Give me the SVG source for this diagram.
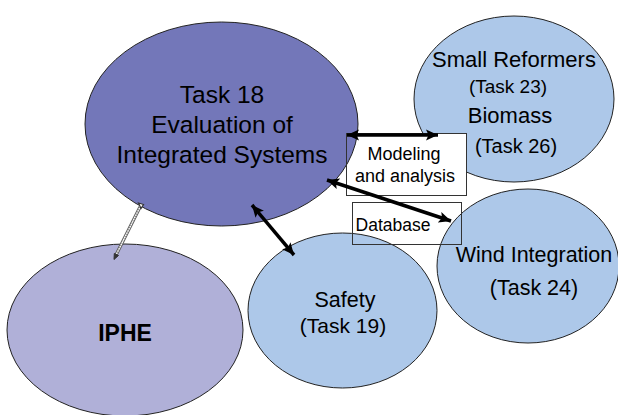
<svg xmlns="http://www.w3.org/2000/svg" width="618" height="415" viewBox="0 0 618 415">
<style>
text{font-family:"Liberation Sans",Arial,sans-serif;fill:#000;text-anchor:middle}
.el{stroke:#222;stroke-width:1}
.blue{fill:#ADC8E9}
.arrow{stroke:#000;stroke-width:3.5;fill:none}
.box{fill:none;stroke:#333;stroke-width:1}
</style>
<defs>
<marker id="ah" viewBox="0 0 12 12" refX="12" refY="6" markerWidth="12" markerHeight="12" markerUnits="userSpaceOnUse" orient="auto-start-reverse">
<path d="M0,0.5 L12,6 L0,11.5 L2.5,6 Z" fill="#000"/>
</marker>
</defs>
<g id="node-small-reformers">
<ellipse class="el blue" cx="514" cy="99" rx="100" ry="83"/>
<text x="514" y="66.7" font-size="22">Small Reformers</text>
<text x="508" y="93" font-size="19">(Task 23)</text>
<text x="510" y="123" font-size="22">Biomass</text>
<text x="516" y="153" font-size="20">(Task 26)</text>
</g>
<g id="node-wind">
<ellipse class="el blue" cx="528" cy="266" rx="91" ry="77"/>
<text x="534" y="262" font-size="21.5">Wind Integration</text>
<text x="534" y="295" font-size="21.5">(Task 24)</text>
</g>
<g id="node-iphe">
<ellipse class="el" fill="#B0B0D8" cx="125" cy="330" rx="118" ry="86"/>
<text x="125" y="341" font-size="23" font-weight="bold">IPHE</text>
</g>
<g id="label-modeling-bg">
<rect x="346.5" y="133.5" width="120" height="62" fill="#fff" stroke="#333"/>
</g>
<g id="node-task18">
<ellipse class="el" fill="#7377B9" cx="221.5" cy="124" rx="136.5" ry="102"/>
<text x="222" y="103" font-size="24.5">Task 18</text>
<text x="222" y="133" font-size="24.5">Evaluation of</text>
<text x="222" y="163" font-size="24.5">Integrated Systems</text>
</g>
<g id="node-safety">
<ellipse class="el blue" cx="342.5" cy="310.5" rx="94.5" ry="77.5"/>
<text x="345" y="307" font-size="21.5">Safety</text>
<text x="343" y="333" font-size="21">(Task 19)</text>
</g>
<g id="connectors">
<g id="label-modeling">
<rect class="box" x="346.5" y="133.5" width="120" height="62"/>
<text x="404" y="160" font-size="18">Modeling</text>
<text x="405" y="182" font-size="18">and analysis</text>
</g>
<g id="label-database">
<rect class="box" x="352.5" y="202.5" width="109" height="42"/>
<text x="393" y="231" font-size="17.5">Database</text>
</g>
<line class="arrow" x1="347" y1="135" x2="438" y2="135" marker-start="url(#ah)" marker-end="url(#ah)"/>
<line class="arrow" x1="327" y1="180" x2="451" y2="221" marker-start="url(#ah)" marker-end="url(#ah)"/>
<line class="arrow" x1="252" y1="205" x2="294" y2="255" marker-start="url(#ah)" marker-end="url(#ah)"/>
<g id="dashed-link">
<line x1="140" y1="207" x2="116" y2="255" stroke="#555" stroke-width="3.2"/>
<line x1="140" y1="207" x2="116" y2="255" stroke="#fff" stroke-width="1.6"/>
<line x1="140" y1="207" x2="116" y2="255" stroke="#888" stroke-width="1.6" stroke-dasharray="1,1.5"/>
<path d="M138.5,203 L143.5,204.5 L141,208.5 Z" fill="#fff" stroke="#333" stroke-width="1.2"/>
<path d="M114,259.5 L114.3,253.5 L118.5,255.5 Z" fill="#333" stroke="#333" stroke-width="1"/>
</g>
</g>
</svg>
